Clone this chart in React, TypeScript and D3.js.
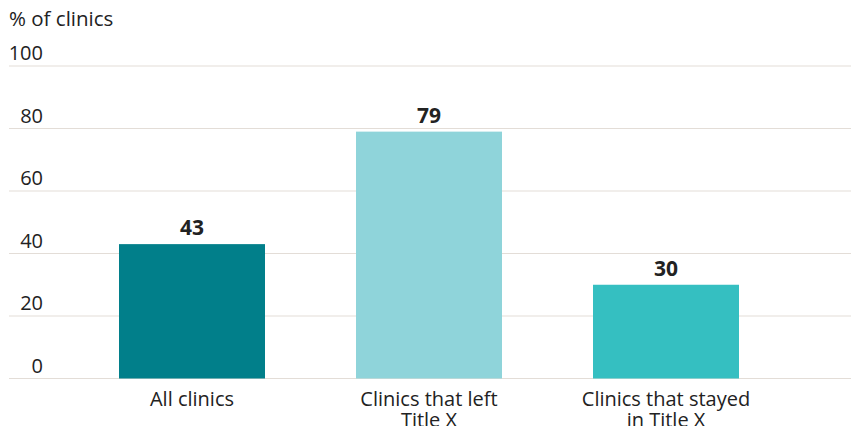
import React, { useEffect, useRef } from 'react';
import * as d3 from 'd3';

const categories = ['All clinics', 'Clinics that left\nTitle X', 'Clinics that stayed\nin Title X'];
const values = [43, 79, 30];
const barColors = ['#017f8a', '#8fd4da', '#35bfc1'];
const yTicks = [0, 20, 40, 60, 80, 100];

const width = 859;
const height = 434;
const font = '"Open Sans", "Noto Sans", sans-serif';

const App = () => {
  const ref = useRef<SVGSVGElement>(null);

  useEffect(() => {
    const svg = d3.select(ref.current);
    svg.selectAll('*').remove();

    const x = d3
      .scaleBand()
      .domain(categories)
      .range([73.5, 784.5])
      .paddingInner(0.384)
      .paddingOuter(0.192);

    const y = d3.scaleLinear().domain([0, 100]).range([378.5, 66]);

    // gridlines
    svg
      .append('g')
      .selectAll('line')
      .data(yTicks)
      .enter()
      .append('line')
      .attr('x1', 9)
      .attr('x2', width)
      .attr('y1', (d) => y(d))
      .attr('y2', (d) => y(d))
      .attr('stroke', '#e3ddd7')
      .attr('stroke-width', 1);

    // tick labels
    svg
      .append('g')
      .selectAll('text')
      .data(yTicks)
      .enter()
      .append('text')
      .attr('x', 43)
      .attr('y', (d) => y(d) - 6)
      .attr('text-anchor', 'end')
      .style('font-family', font)
      .style('font-size', '20px')
      .style('fill', '#222')
      .text((d) => d);

    svg
      .append('text')
      .attr('x', 9)
      .attr('y', 26)
      .style('font-family', font)
      .style('font-size', '20.5px')
      .style('fill', '#222')
      .text('% of clinics');

    // bars
    svg
      .append('g')
      .selectAll('rect')
      .data(values)
      .enter()
      .append('rect')
      .attr('x', (d, i) => x(categories[i]))
      .attr('width', x.bandwidth())
      .attr('y', (d) => y(d))
      .attr('height', (d) => y(0) - y(d))
      .style('fill', (d, i) => barColors[i]);

    // value labels
    svg
      .append('g')
      .selectAll('text')
      .data(values)
      .enter()
      .append('text')
      .attr('x', (d, i) => x(categories[i]) + x.bandwidth() / 2)
      .attr('y', (d) => y(d) - 9)
      .attr('text-anchor', 'middle')
      .style('font-family', font)
      .style('font-size', '21px')
      .style('font-weight', 'bold')
      .style('fill', '#222')
      .text((d) => d);

    // category labels, one text per line
    const lines = categories.flatMap((c) => c.split('\n').map((t, i) => ({ t, c, i })));
    svg
      .append('g')
      .selectAll('text')
      .data(lines)
      .enter()
      .append('text')
      .attr('x', (d) => x(d.c) + x.bandwidth() / 2)
      .attr('y', (d) => 406 + d.i * 21)
      .attr('text-anchor', 'middle')
      .style('font-family', font)
      .style('font-size', '20px')
      .style('fill', '#222')
      .text((d) => d.t);
  }, []);

  return <svg ref={ref} width={width} height={height} style={{ display: 'block', margin: '-8px' }} />;
};

export default App;
